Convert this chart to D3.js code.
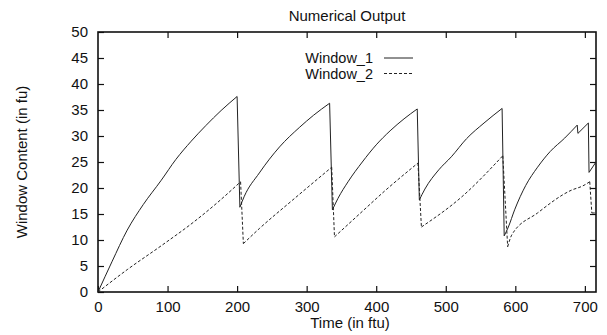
<!DOCTYPE html>
<html>
<head>
<meta charset="utf-8">
<script src="https://cdn.jsdelivr.net/npm/d3@7"></script>
<style>
  body { margin: 0; background: #fff; }
  text { font-family: "Liberation Sans", Arial, sans-serif; fill: #111; }
</style>
</head>
<body>
<div id="chart"></div>
<script>
// values
const xTicks = [0, 100, 200, 300, 400, 500, 600, 700];
const yTicks = [0, 5, 10, 15, 20, 25, 30, 35, 40, 45, 50];

const w1Time = [0, 20, 42, 65, 91, 112, 134, 155, 177, 200,
  204, 210, 232, 261, 290, 310, 333,
  337, 345, 360, 380, 400, 420, 440, 459,
  462, 470, 490, 508, 530, 555, 581,
  584, 590, 599, 615, 632, 650, 671, 689, 690, 705, 706, 716];
const w1Value = [0, 5.8, 11.9, 16.8, 21.5, 25.5, 29.0, 32.0, 34.9, 37.6,
  16.3, 18.3, 22.9, 27.9, 31.7, 34.0, 36.3,
  15.8, 18.0, 21.3, 25.0, 28.3, 31.0, 33.3, 35.2,
  17.7, 19.8, 23.5, 26.0, 29.5, 32.5, 35.3,
  10.8, 12.5, 15.8, 20.5, 24.0, 27.0, 29.6, 32.1, 30.5, 32.5, 23.0, 25.0];

const w2Time = [0, 42, 91, 138, 170, 205, 209, 232, 280, 336, 340, 380, 412, 460,
  465, 523, 582, 589, 595, 632, 681, 697, 707, 710, 716];
const w2Value = [0, 4.3, 8.9, 13.5, 17.0, 21.2, 9.3, 12.2, 17.7, 24.0, 10.6, 15.5, 19.4, 24.8,
  12.5, 18.3, 26.2, 8.7, 11.0, 15.2, 19.6, 20.4, 21.2, 15.2, 15.2];

const seriesNames = ["Window_1", "Window_2"];

const width = 607, height = 335;
const margin = { top: 32, right: 11, bottom: 43, left: 98 };
const fontSize = 15;

const svg = d3.select("#chart").append("svg")
  .attr("width", width)
  .attr("height", height);

const x = d3.scaleLinear().domain([0, 716]).range([margin.left, width - margin.right]);
const y = d3.scaleLinear().domain([0, 50]).range([height - margin.bottom, margin.top]);

// axes, ticks pointing inward
const axBottom = svg.append("g")
  .attr("transform", "translate(0," + y(0) + ")")
  .call(d3.axisBottom(x).tickValues(xTicks).tickSize(-6).tickSizeOuter(0).tickPadding(9));
const axTop = svg.append("g")
  .attr("transform", "translate(0," + y(50) + ")")
  .call(d3.axisTop(x).tickValues(xTicks.filter(d => d > 0)).tickSize(-6).tickSizeOuter(0).tickFormat(""));
const axLeft = svg.append("g")
  .attr("transform", "translate(" + x(0) + ",0)")
  .call(d3.axisLeft(y).tickValues(yTicks).tickSize(-6).tickSizeOuter(0).tickPadding(10));
const axRight = svg.append("g")
  .attr("transform", "translate(" + x(716) + ",0)")
  .call(d3.axisRight(y).tickValues(yTicks.filter(d => d > 0 && d < 50)).tickSize(-6).tickSizeOuter(0).tickFormat(""));

[axBottom, axTop, axLeft, axRight].forEach(g => {
  g.select(".domain").remove();
  g.selectAll(".tick line").attr("stroke", "#111").attr("stroke-width", 1.2);
  g.selectAll("text").attr("font-size", fontSize).attr("fill", "#111")
    .attr("font-family", "Liberation Sans, Arial, sans-serif");
});

svg.append("rect")
  .attr("x", x(0)).attr("y", y(50))
  .attr("width", x(716) - x(0)).attr("height", y(0) - y(50))
  .attr("fill", "none").attr("stroke", "#111").attr("stroke-width", 1.6);

// lines: smooth the rising stretches, keep the drops straight
const smooth = d3.line().curve(d3.curveMonotoneX).x(d => x(d[0])).y(d => y(d[1]));
const straight = d3.line().x(d => x(d[0])).y(d => y(d[1]));

function sawPath(times, values) {
  const pts = times.map((t, i) => [t, values[i]]);
  const segs = [[pts[0]]];
  for (let i = 1; i < pts.length; i++) {
    if (pts[i][1] < pts[i - 1][1]) segs.push([pts[i]]);
    else segs[segs.length - 1].push(pts[i]);
  }
  let d = "";
  segs.forEach((s, k) => {
    if (k > 0) d += straight([segs[k - 1][segs[k - 1].length - 1], s[0]]);
    if (s.length > 1) d += smooth(s);
  });
  return d;
}

svg.append("path")
  .attr("fill", "none").attr("stroke", "#222").attr("stroke-width", 1)
  .attr("d", sawPath(w1Time, w1Value));

svg.append("path")
  .attr("fill", "none").attr("stroke", "#222").attr("stroke-width", 1)
  .attr("stroke-dasharray", "3,2")
  .attr("d", sawPath(w2Time, w2Value));

// legend
const legend = svg.append("g");
seriesNames.forEach((name, i) => {
  const ly = 58 + i * 15.5;
  legend.append("text")
    .attr("x", 373).attr("y", ly + 5)
    .attr("text-anchor", "end").attr("font-size", 14.5)
    .text(name);
  legend.append("line")
    .attr("x1", 384).attr("x2", 413).attr("y1", ly).attr("y2", ly)
    .attr("stroke", "#222").attr("stroke-width", 1)
    .attr("stroke-dasharray", i === 1 ? "3,2" : null);
});

// titles
svg.append("text")
  .attr("x", 347).attr("y", 21)
  .attr("text-anchor", "middle").attr("font-size", fontSize)
  .text("Numerical Output");

svg.append("text")
  .attr("x", 350).attr("y", 328)
  .attr("text-anchor", "middle").attr("font-size", fontSize)
  .text("Time (in ftu)");

svg.append("text")
  .attr("transform", "translate(27," + ((y(0) + y(50)) / 2) + ") rotate(-90)")
  .attr("text-anchor", "middle").attr("font-size", fontSize)
  .text("Window Content (in fu)");
</script>
</body>
</html>
